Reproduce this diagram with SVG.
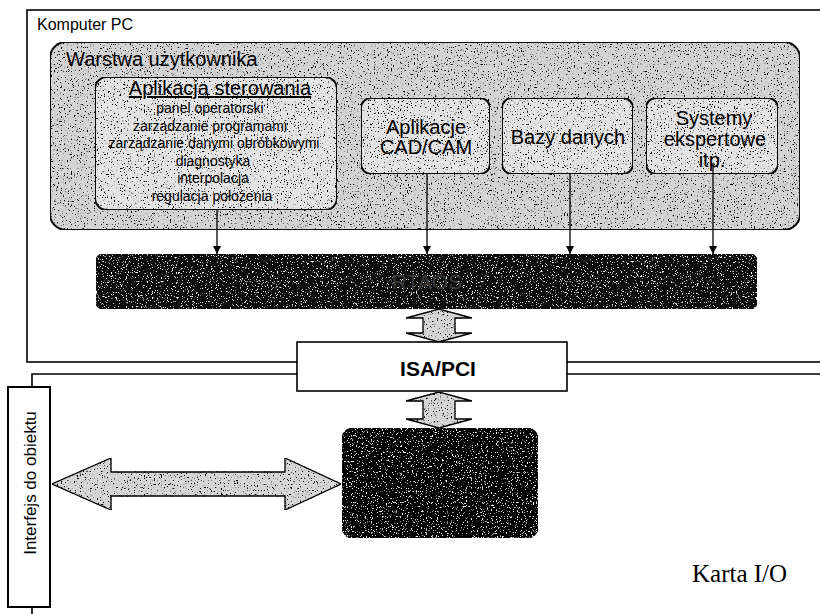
<svg xmlns="http://www.w3.org/2000/svg" width="820" height="614" viewBox="0 0 820 614">
<style>
  .frame{fill:none;stroke:#000;stroke-width:1.6}
  .box{stroke:#111;stroke-width:2}
  .lt{font-family:"Liberation Sans",Arial,sans-serif;fill:#000}
  .conn{stroke:#000;stroke-width:1.3;fill:none}
  .barrow{fill:#d6d6d6;stroke:#000;stroke-width:1.3;stroke-linejoin:miter}
</style>
<defs>
  <filter id="speckL" x="0" y="0" width="100%" height="100%">
    <feTurbulence type="fractalNoise" baseFrequency="0.7" numOctaves="3" seed="4" result="n"/>
    <feColorMatrix in="n" type="matrix" values="0 0 0 0 0  0 0 0 0 0  0 0 0 0 0  10 0 0 0 -6.1" result="m"/>
    <feComposite in="m" in2="SourceAlpha" operator="in" result="d"/>
    <feMerge><feMergeNode in="SourceGraphic"/><feMergeNode in="d"/></feMerge>
  </filter>
  <filter id="speckD" x="0" y="0" width="100%" height="100%">
    <feTurbulence type="fractalNoise" baseFrequency="0.8" numOctaves="3" seed="7" result="n"/>
    <feColorMatrix in="n" type="matrix" values="0 0 0 0 1  0 0 0 0 1  0 0 0 0 1  10 0 0 0 -6.3" result="m"/>
    <feComposite in="m" in2="SourceAlpha" operator="in" result="d"/>
    <feMerge><feMergeNode in="SourceGraphic"/><feMergeNode in="d"/></feMerge>
  </filter>
  <marker id="tri" viewBox="0 0 10 10" refX="10" refY="5" markerWidth="8" markerHeight="8" markerUnits="userSpaceOnUse" orient="auto">
    <path d="M0,0 L10,5 L0,10 z" fill="#000"/>
  </marker>
</defs>
<rect width="820" height="614" fill="#fff"/>

<g id="komputer-pc">
  <rect class="frame" x="27" y="10" width="810" height="352"/>
  <text class="lt" x="37" y="30" font-size="16">Komputer PC</text>
</g>

<g id="karta-io">
  <path class="frame" d="M820,374 H32 V614"/>
  <text x="692" y="582" font-family="'Liberation Serif','Times New Roman',serif" font-size="25" fill="#000">Karta I/O</text>
</g>

<g id="warstwa-uzytkownika">
  <rect class="box" x="50" y="42" width="750" height="188" rx="16" fill="#d4d4d4" filter="url(#speckL)"/>
  <text class="lt" x="66" y="66" font-size="20">Warstwa użytkownika</text>
</g>

<g id="aplikacja-sterowania">
  <rect class="box" x="95" y="77" width="242" height="133" rx="12" fill="#e4e4e4" filter="url(#speckL)"/>
  <text class="lt" x="220" y="95" font-size="20" text-anchor="middle" text-decoration="underline">Aplikacja sterowania</text>
  <g class="lt" font-size="14" text-anchor="middle">
    <text x="210" y="113">panel operatorski</text>
    <text x="210" y="130.5">zarządzanie programami</text>
    <text x="214" y="148">zarządzanie danymi obróbkowymi</text>
    <text x="213" y="165.5">diagnostyka</text>
    <text x="213" y="183">interpolacja</text>
    <text x="212" y="200.5">regulacja położenia</text>
  </g>
</g>

<g id="aplikacje-cad-cam">
  <rect class="box" x="361" y="98" width="129" height="76" rx="10" fill="#e4e4e4" filter="url(#speckL)"/>
  <text class="lt" x="426" y="134" font-size="20" text-anchor="middle">Aplikacje</text>
  <text class="lt" x="426" y="154" font-size="20" text-anchor="middle">CAD/CAM</text>
</g>

<g id="bazy-danych">
  <rect class="box" x="502" y="98" width="131" height="76" rx="10" fill="#e4e4e4" filter="url(#speckL)"/>
  <text class="lt" x="568" y="144" font-size="20" text-anchor="middle">Bazy danych</text>
</g>

<g id="systemy-ekspertowe">
  <rect class="box" x="646" y="98" width="132" height="76" rx="10" fill="#e4e4e4" filter="url(#speckL)"/>
  <text class="lt" x="714" y="125" font-size="20" text-anchor="middle">Systemy</text>
  <text class="lt" x="715" y="146" font-size="20" text-anchor="middle">ekspertowe</text>
  <text class="lt" x="712" y="167" font-size="20" text-anchor="middle">itp.</text>
</g>

<g id="rtaos">
  <rect class="box" x="96" y="254" width="661" height="55" rx="8" fill="#0c0c0c" filter="url(#speckD)"/>
  <text class="lt" x="427" y="289" font-size="21" text-anchor="middle" style="fill:#3a3a3a">RTAOS</text>
</g>

<g id="isa-pci">
  <rect x="297" y="342" width="270" height="49" fill="#fff" stroke="#000" stroke-width="1.6"/>
  <text class="lt" x="438" y="376" font-size="21" font-weight="bold" text-anchor="middle">ISA/PCI</text>
</g>

<g id="karta-uklad">
  <rect class="box" x="342" y="428" width="196" height="110" rx="12" fill="#050505" filter="url(#speckD)"/>
</g>

<g id="interfejs">
  <rect x="8" y="387" width="42" height="220" fill="#fff" stroke="#000" stroke-width="2"/>
  <text class="lt" transform="translate(36,483) rotate(-90)" font-size="17" text-anchor="middle">Interfejs do obiektu</text>
</g>

<g id="connectors">
  <line class="conn" x1="217" y1="210" x2="217" y2="254" marker-end="url(#tri)"/>
  <line class="conn" x1="427" y1="174" x2="427" y2="254" marker-end="url(#tri)"/>
  <line class="conn" x1="570" y1="174" x2="570" y2="254" marker-end="url(#tri)"/>
  <line class="conn" x1="713" y1="163" x2="713" y2="254" marker-end="url(#tri)"/>
  <polygon class="barrow" filter="url(#speckL)" points="439,309 472,318 455,318 455,333 472,333 439,342 406,333 423,333 423,318 406,318"/>
  <polygon class="barrow" filter="url(#speckL)" points="439,392 472,401 455,401 455,419 472,419 439,428 406,419 423,419 423,401 406,401"/>
  <polygon class="barrow" filter="url(#speckL)" points="52,484 111,458 111,472 285,472 285,458 341,484 285,510 285,496 111,496 111,510"/>
</g>
</svg>
